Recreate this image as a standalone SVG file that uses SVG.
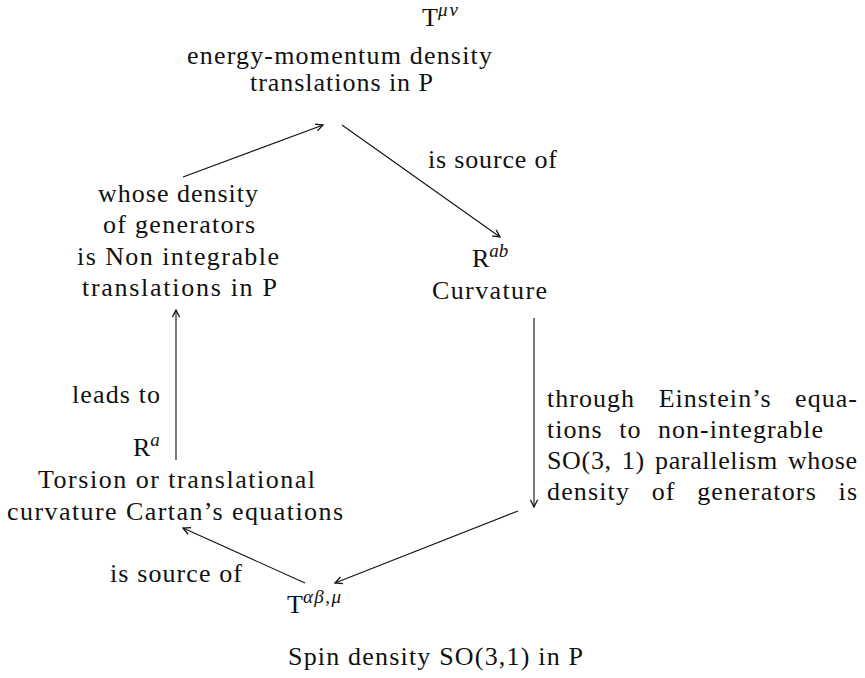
<svg xmlns="http://www.w3.org/2000/svg" width="865" height="678" viewBox="0 0 865 678">
<style>
text{font-family:"Liberation Serif","Times New Roman",serif;font-size:26px;fill:#111}
.sup{font-size:19px;font-style:italic}
.ln{stroke:#111;stroke-width:1.1;fill:none}
</style>
<defs>
<marker id="ah" viewBox="0 0 10 10" refX="9" refY="5" markerWidth="9" markerHeight="9" markerUnits="userSpaceOnUse" orient="auto">
<path d="M1,1 L9,5 L1,9" fill="none" stroke="#111" stroke-width="1.4"/>
</marker>
</defs>
<rect width="865" height="678" fill="#fff"/>
<g id="connectors">
<line class="ln" x1="183" y1="177" x2="323" y2="125" marker-end="url(#ah)"/>
<line class="ln" x1="342" y1="125" x2="500" y2="237" marker-end="url(#ah)"/>
<line class="ln" x1="534" y1="318" x2="534" y2="507" marker-end="url(#ah)"/>
<line class="ln" x1="518" y1="511" x2="335" y2="583" marker-end="url(#ah)"/>
<line class="ln" x1="305" y1="583" x2="183" y2="528" marker-end="url(#ah)"/>
<line class="ln" x1="176" y1="460" x2="176" y2="310" marker-end="url(#ah)"/>
</g>
<g id="node-energy">
<text x="422" y="26">T<tspan class="sup" dy="-10" letter-spacing="2">μν</tspan></text>
<text x="187" y="64" textLength="305" lengthAdjust="spacing">energy-momentum density</text>
<text x="250" y="91" textLength="183" lengthAdjust="spacing">translations in P</text>
</g>
<g id="label-source-top">
<text x="428" y="168" textLength="129" lengthAdjust="spacing">is source of</text>
</g>
<g id="node-curvature">
<text x="472" y="267">R<tspan class="sup" dy="-10">ab</tspan></text>
<text x="432" y="299" textLength="115" lengthAdjust="spacing">Curvature</text>
</g>
<g id="label-einstein">
<text x="547" y="407" word-spacing="16" textLength="310" lengthAdjust="spacing">through Einstein’s equa-</text>
<text x="547" y="438" word-spacing="9" textLength="276" lengthAdjust="spacing">tions to non-integrable</text>
<text x="547" y="469" word-spacing="3" textLength="310" lengthAdjust="spacing">SO(3, 1) parallelism whose</text>
<text x="547" y="500" word-spacing="14" textLength="310" lengthAdjust="spacing">density of generators is</text>
</g>
<g id="node-spin">
<text x="287" y="613">T<tspan class="sup" dy="-10" letter-spacing="1.5">αβ,μ</tspan></text>
<text x="288" y="665" textLength="295" lengthAdjust="spacing">Spin density SO(3,1) in P</text>
</g>
<g id="label-source-bottom">
<text x="110" y="582" textLength="132" lengthAdjust="spacing">is source of</text>
</g>
<g id="node-torsion">
<text x="133" y="456">R<tspan class="sup" dy="-10">a</tspan></text>
<text x="38" y="488" textLength="277" lengthAdjust="spacing">Torsion or translational</text>
<text x="7" y="520" textLength="336" lengthAdjust="spacing">curvature Cartan’s equations</text>
</g>
<g id="label-leads">
<text x="72" y="403" textLength="88" lengthAdjust="spacing">leads to</text>
</g>
<g id="node-translations">
<text x="98" y="202" textLength="160" lengthAdjust="spacing">whose density</text>
<text x="103" y="233" textLength="152" lengthAdjust="spacing">of generators</text>
<text x="77" y="265" textLength="202" lengthAdjust="spacing">is Non integrable</text>
<text x="82" y="296" textLength="195" lengthAdjust="spacing">translations in P</text>
</g>
</svg>
